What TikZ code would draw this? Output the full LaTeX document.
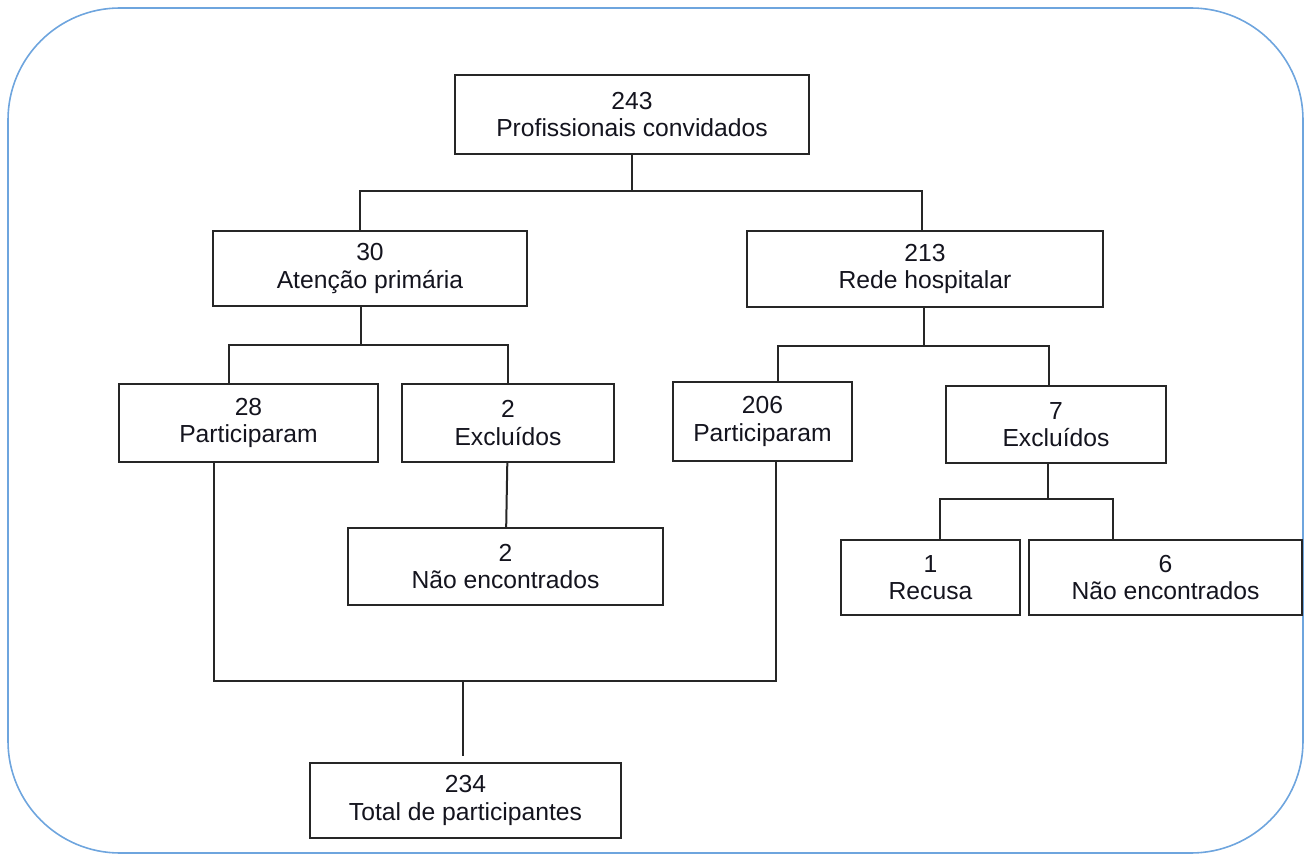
\documentclass[tikz,border=0pt]{standalone}
\usepackage{fontspec}
\setmainfont{Liberation Sans}
\definecolor{frameblue}{RGB}{110,165,222}
\definecolor{txt}{RGB}{20,20,30}
\begin{document}
\begin{tikzpicture}[x=0.75pt,y=-0.75pt,
  box/.style={draw=black!85,line width=1.5pt,align=center,inner sep=0pt,
    text=txt,font=\fontsize{18.5}{20.5}\selectfont},
  conn/.style={draw=black!85,line width=1.5pt}]
\useasboundingbox (0,0) rectangle (1311,855);
\draw[frameblue,line width=1.2pt,rounded corners=84pt] (8,8) rectangle (1303,853);

\node[box,minimum width=354*0.75pt,minimum height=79*0.75pt] (top) at (632,114.5) {243\\Profissionais convidados};
\node[box,minimum width=314*0.75pt,minimum height=75*0.75pt] (aten) at (370,268.5) {30\\Atenção primária};
\node[box,minimum width=356*0.75pt,minimum height=76*0.75pt] (rede) at (925,269) {213\\Rede hospitalar};
\node[box,minimum width=259*0.75pt,minimum height=78*0.75pt] (p28) at (248.5,423) {28\\Participaram};
\node[box,minimum width=212*0.75pt,minimum height=78*0.75pt] (e2) at (508,423) {2\\Excluídos};
\node[box,minimum width=179*0.75pt,minimum height=79*0.75pt] (p206) at (762.5,421.5) {206\\Participaram};
\node[box,minimum width=220*0.75pt,minimum height=77*0.75pt] (e7) at (1056,424.5) {7\\Excluídos};
\node[box,minimum width=315*0.75pt,minimum height=77*0.75pt] (ne2) at (505.5,566.5) {2\\Não encontrados};
\node[box,minimum width=179*0.75pt,minimum height=75*0.75pt] (rec) at (930.5,577.5) {1\\Recusa};
\node[box,minimum width=273*0.75pt,minimum height=75*0.75pt] (ne6) at (1165.5,577.5) {6\\Não encontrados};
\node[box,minimum width=311*0.75pt,minimum height=75*0.75pt] (tot) at (465.5,800.5) {234\\Total de participantes};

% level 1
\coordinate (j1) at (632,191);
\coordinate (j1a) at (360,191);
\coordinate (j1b) at (922,191);
\draw[conn] (top) -- (j1);
\draw[conn] (j1a |- aten.north) -- (j1a) -- (j1b) -- (j1b |- rede.north);

% Atencao branch
\coordinate (j2) at (361,345);
\coordinate (j2a) at (229,345);
\coordinate (j2b) at (508,345);
\draw[conn] (j2 |- aten.south) -- (j2);
\draw[conn] (j2a |- p28.north) -- (j2a) -- (j2b) -- (j2b |- e2.north);

% Rede branch
\coordinate (j3) at (924,346);
\coordinate (j3a) at (778,346);
\coordinate (j3b) at (1049,346);
\draw[conn] (j3 |- rede.south) -- (j3);
\draw[conn] (j3a |- p206.north) -- (j3a) -- (j3b) -- (j3b |- e7.north);

% Excluidos 2
\draw[conn] (e2) -- (ne2);

% Excluidos 7
\coordinate (j4) at (1048,499);
\coordinate (j4a) at (940,499);
\coordinate (j4b) at (1113,499);
\draw[conn] (j4 |- e7.south) -- (j4);
\draw[conn] (j4a |- rec.north) -- (j4a) -- (j4b) -- (j4b |- ne6.north);

% totals
\coordinate (j5a) at (214,681);
\coordinate (j5b) at (776,681);
\coordinate (j5) at (463,681);
\draw[conn] (j5a |- p28.south) -- (j5a) -- (j5b) -- (j5b |- p206.south);
\draw[conn,shorten >=6*0.75pt] (j5) -- (j5 |- tot.north);
\end{tikzpicture}
\end{document}
